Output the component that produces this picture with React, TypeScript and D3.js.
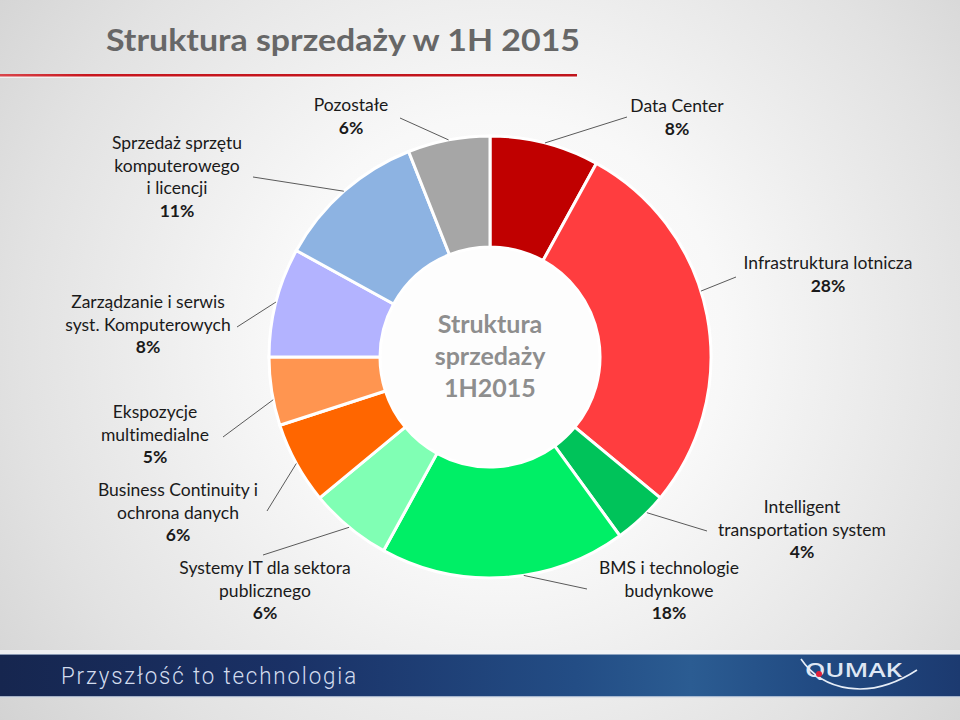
import React from "react";
import * as d3 from "d3";

// ---------- data ----------
const categories = [
  "Data Center",
  "Infrastruktura lotnicza",
  "Intelligent transportation system",
  "BMS i technologie budynkowe",
  "Systemy IT dla sektora publicznego",
  "Business Continuity i ochrona danych",
  "Ekspozycje multimedialne",
  "Zarządzanie i serwis syst. Komputerowych",
  "Sprzedaż sprzętu komputerowego i licencji",
  "Pozostałe",
];
const values = [8, 28, 4, 18, 6, 6, 5, 8, 11, 6];
const labelLines = [
  ["Data Center"],
  ["Infrastruktura lotnicza"],
  ["Intelligent", "transportation system"],
  ["BMS i technologie", "budynkowe"],
  ["Systemy IT dla sektora", "publicznego"],
  ["Business Continuity i", "ochrona danych"],
  ["Ekspozycje", "multimedialne"],
  ["Zarządzanie i serwis", "syst. Komputerowych"],
  ["Sprzedaż sprzętu", "komputerowego", "i licencji"],
  ["Pozostałe"],
];
const titleText = "Struktura sprzedaży w 1H 2015";
const centerLines = ["Struktura", "sprzedaży", "1H2015"];
const footerText = "Przyszłość to technologia";
const logoText = "QUMAK";

// ---------- styles / layout ----------
const sliceColors = [
  "#c00000",
  "#ff3d3f",
  "#00c35a",
  "#00ef66",
  "#80ffb4",
  "#ff6600",
  "#ff9550",
  "#b3b3ff",
  "#8db3e2",
  "#a6a6a6",
];
const labelAnchors: [number, number][] = [
  [677, 106],
  [828, 263],
  [802, 507],
  [669, 568],
  [265, 568],
  [178, 490],
  [155, 412],
  [148, 302],
  [177, 143],
  [351, 105],
];
const leaderEnds: [number, number][] = [
  [627, 117],
  [736, 277],
  [707, 531],
  [587, 589],
  [263, 555],
  [267, 511],
  [223, 437],
  [237, 327],
  [253, 177],
  [400, 118],
];
const leaderFrac = [0.5, 0.435, 0.36, 0.42, 0.5, 0.5, 0.38, 0.5, 0.5, 0.5];

const W = 960;
const H = 720;
const cx = 490;
const cy = 357;
const outerR = 221;
const innerR = 110;
const lineGap = 22.5;
const labelFont = "Lato, 'Open Sans', sans-serif";

export default function App() {
  const pie = d3
    .pie<number>()
    .sort(null)
    .value((d) => d)
    .startAngle(0)
    .endAngle(2 * Math.PI);
  const arcs = pie(values);
  const arcGen = d3
    .arc<d3.PieArcDatum<number>>()
    .innerRadius(innerR)
    .outerRadius(outerR);

  return (
    <svg
      width={W}
      height={H}
      viewBox={`0 0 ${W} ${H}`}
      style={{
        position: "absolute",
        left: 0,
        top: 0,
        display: "block",
        fontVariantLigatures: "none",
      }}
    >
      <defs>
        <radialGradient id="bg" gradientUnits="userSpaceOnUse" cx={500} cy={340} r={640}>
          <stop offset="0" stopColor="#ffffff" />
          <stop offset="0.35" stopColor="#f8f8f8" />
          <stop offset="0.75" stopColor="#e2e2e2" />
          <stop offset="1" stopColor="#d2d2d2" />
        </radialGradient>
        <linearGradient id="footer" x1="0" x2="1" y1="0" y2="0">
          <stop offset="0" stopColor="#16264f" />
          <stop offset="0.3" stopColor="#1a3166" />
          <stop offset="0.6" stopColor="#234d85" />
          <stop offset="0.72" stopColor="#2b5c92" />
          <stop offset="0.85" stopColor="#214a82" />
          <stop offset="1" stopColor="#1c3a70" />
        </linearGradient>
        <linearGradient id="redline" x1="0" x2="1" y1="0" y2="0">
          <stop offset="0" stopColor="#d9454b" />
          <stop offset="0.15" stopColor="#c8161e" />
          <stop offset="1" stopColor="#c0141c" />
        </linearGradient>
      </defs>

      <rect x={0} y={0} width={W} height={H} fill="url(#bg)" />

      {/* title */}
      <text
        x={106}
        y={51}
        textLength={474}
        lengthAdjust="spacingAndGlyphs"
        fontFamily={labelFont}
        fontWeight={700}
        fontSize={31}
        fill="#676767"
      >
        {titleText}
      </text>
      <rect x={0} y={76} width={577} height={2} fill="#ffffff" opacity={0.6} />
      <rect x={0} y={74} width={577} height={2.5} fill="url(#redline)" />

      {/* donut */}
      <g transform={`translate(${cx},${cy})`}>
        <circle r={innerR} fill="#fdfdfd" />
        {arcs.map((a, i) => (
          <path
            key={categories[i]}
            d={arcGen(a) || ""}
            fill={sliceColors[i]}
            stroke="#ffffff"
            strokeWidth={3}
            strokeLinejoin="miter"
          />
        ))}
      </g>

      {/* leader lines */}
      {arcs.map((a, i) => {
        const ang = a.startAngle + (a.endAngle - a.startAngle) * leaderFrac[i];
        const sx = cx + outerR * Math.sin(ang);
        const sy = cy - outerR * Math.cos(ang);
        const [ex, ey] = leaderEnds[i];
        return (
          <line
            key={"l" + i}
            x1={sx}
            y1={sy}
            x2={ex}
            y2={ey}
            stroke="#5a5a5a"
            strokeWidth={1}
          />
        );
      })}

      {/* labels */}
      {labelLines.map((lines, i) => {
        const [lx, ly] = labelAnchors[i];
        return (
          <g key={"t" + i} fontFamily={labelFont} fontSize={17.5} fill="#1a1a1a" textAnchor="middle">
            {lines.map((ln, j) => (
              <text key={j} x={lx} y={ly + 6 + j * lineGap}>
                {ln}
              </text>
            ))}
            <text x={lx} y={ly + 6 + lines.length * lineGap} fontWeight={700}>
              {values[i] + "%"}
            </text>
          </g>
        );
      })}

      {/* center text */}
      <g fontFamily={labelFont} fontWeight={700} fontSize={25} fill="#8e8e8e" textAnchor="middle">
        {centerLines.map((t, i) => (
          <text key={t} x={cx} y={333 + i * 32}>
            {t}
          </text>
        ))}
      </g>

      {/* footer */}
      <rect x={0} y={650} width={W} height={4} fill="#f2f4f7" opacity={0.8} />
      <rect x={0} y={654} width={W} height={43} fill="url(#footer)" />
      <rect x={0} y={654} width={W} height={1} fill="#b9c7dc" opacity={0.7} />
      <rect x={0} y={696} width={W} height={1.5} fill="#c9d3e2" opacity={0.8} />
      <text
        x={61}
        y={684}
        textLength={297}
        lengthAdjust="spacingAndGlyphs"
        fontFamily="Roboto, 'DejaVu Sans', sans-serif"
        fontWeight={300}
        fontSize={24}
        letterSpacing={2}
        fill="#d3dcee"
      >
        {footerText}
      </text>
      <text
        x={805}
        y={677}
        textLength={97}
        lengthAdjust="spacingAndGlyphs"
        fontFamily="'Open Sans', sans-serif"
        fontWeight={600}
        fontSize={19}
        fill="#dfe7f4"
      >
        {logoText}
      </text>
      <path
        d="M 801 659 C 822 690, 868 702, 917 670"
        fill="none"
        stroke="#e6edf7"
        strokeWidth={1.6}
      />
      <circle cx={819} cy={674} r={3} fill="#e3203a" />
    </svg>
  );
}
